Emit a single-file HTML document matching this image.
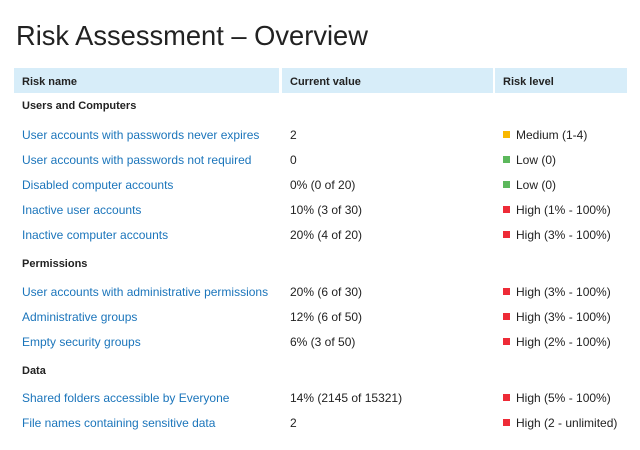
<!DOCTYPE html>
<html>
<head>
<meta charset="utf-8">
<style>
  html, body { margin:0; padding:0; background:#fff; }
  body { width:640px; height:450px; position:relative; overflow:hidden;
         font-family:"Liberation Sans", Arial, sans-serif; color:#222; }
  .title { position:absolute; left:16px; top:18px; font-size:27.3px; line-height:36px; color:#222; white-space:nowrap; }
  .hdr { position:absolute; top:68px; height:25px; background:#d7edf9; }
  .ht { position:absolute; font-size:11px; font-weight:bold; line-height:20px; color:#222; white-space:nowrap; }
  .sec { position:absolute; left:22px; font-size:11px; font-weight:bold; line-height:20px; color:#222; white-space:nowrap; }
  .c1 { position:absolute; left:22px; font-size:12px; line-height:20px; color:#1b75bb; white-space:nowrap; }
  .c2 { position:absolute; left:290px; font-size:12px; line-height:20px; color:#222; white-space:nowrap; }
  .c3 { position:absolute; left:516px; font-size:12px; line-height:20px; color:#222; white-space:nowrap; }
  .sq { position:absolute; left:503px; width:7px; height:7px; }
  .r { background:#ee2b37; } .o { background:#f9b800; } .g { background:#5cb85c; }
</style>
</head>
<body>
<div class="title">Risk Assessment – Overview</div>

<div class="hdr" style="left:14px;width:265px;"></div>
<div class="hdr" style="left:282px;width:211px;"></div>
<div class="hdr" style="left:495px;width:132px;"></div>
<div class="ht" style="left:22px;top:72px;">Risk name</div>
<div class="ht" style="left:290px;top:72px;">Current value</div>
<div class="ht" style="left:503px;top:72px;">Risk level</div>

<div class="sec" style="top:96px;">Users and Computers</div>

<div class="c1" style="top:125px;">User accounts with passwords never expires</div>
<div class="c2" style="top:125px;">2</div>
<div class="sq o" style="top:131px;"></div><div class="c3" style="top:125px;">Medium (1-4)</div>

<div class="c1" style="top:150px;">User accounts with passwords not required</div>
<div class="c2" style="top:150px;">0</div>
<div class="sq g" style="top:156px;"></div><div class="c3" style="top:150px;">Low (0)</div>

<div class="c1" style="top:175px;">Disabled computer accounts</div>
<div class="c2" style="top:175px;">0% (0 of 20)</div>
<div class="sq g" style="top:181px;"></div><div class="c3" style="top:175px;">Low (0)</div>

<div class="c1" style="top:200px;">Inactive user accounts</div>
<div class="c2" style="top:200px;">10% (3 of 30)</div>
<div class="sq r" style="top:206px;"></div><div class="c3" style="top:200px;">High (1% - 100%)</div>

<div class="c1" style="top:225px;">Inactive computer accounts</div>
<div class="c2" style="top:225px;">20% (4 of 20)</div>
<div class="sq r" style="top:231px;"></div><div class="c3" style="top:225px;">High (3% - 100%)</div>

<div class="sec" style="top:254px;">Permissions</div>

<div class="c1" style="top:282px;">User accounts with administrative permissions</div>
<div class="c2" style="top:282px;">20% (6 of 30)</div>
<div class="sq r" style="top:288px;"></div><div class="c3" style="top:282px;">High (3% - 100%)</div>

<div class="c1" style="top:307px;">Administrative groups</div>
<div class="c2" style="top:307px;">12% (6 of 50)</div>
<div class="sq r" style="top:313px;"></div><div class="c3" style="top:307px;">High (3% - 100%)</div>

<div class="c1" style="top:332px;">Empty security groups</div>
<div class="c2" style="top:332px;">6% (3 of 50)</div>
<div class="sq r" style="top:338px;"></div><div class="c3" style="top:332px;">High (2% - 100%)</div>

<div class="sec" style="top:361px;">Data</div>

<div class="c1" style="top:388px;">Shared folders accessible by Everyone</div>
<div class="c2" style="top:388px;">14% (2145 of 15321)</div>
<div class="sq r" style="top:394px;"></div><div class="c3" style="top:388px;">High (5% - 100%)</div>

<div class="c1" style="top:413px;">File names containing sensitive data</div>
<div class="c2" style="top:413px;">2</div>
<div class="sq r" style="top:419px;"></div><div class="c3" style="top:413px;">High (2 - unlimited)</div>
</body>
</html>
